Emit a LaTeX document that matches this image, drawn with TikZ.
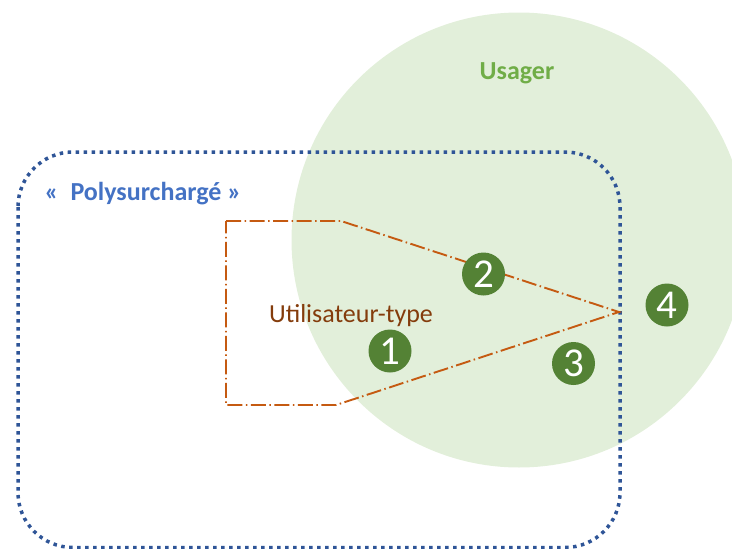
\documentclass[tikz,border=0pt]{standalone}
\usepackage{fontspec}
\setmainfont{Carlito}
\definecolor{usagerfill}{HTML}{E2EFDA}
\definecolor{usagertext}{HTML}{70AD47}
\definecolor{polyblue}{HTML}{2F5597}
\definecolor{polytext}{HTML}{4472C4}
\definecolor{typeline}{HTML}{C55A11}
\definecolor{typetext}{HTML}{843C0C}
\definecolor{numfill}{HTML}{548235}
\tikzset{
  polybox/.style={draw=polyblue, line width=3.5pt, dash pattern=on 3.5pt off 4.5pt, rounded corners=55pt},
  typebox/.style={draw=typeline, line width=1.9pt, dash pattern=on 15pt off 3.5pt on 1.5pt off 3.5pt},
  numcircle/.style={circle, fill=numfill, text=white, minimum size=43pt, inner sep=0pt, font=\fontsize{41}{42}\selectfont},
  bigtext/.style={font=\fontsize{26}{30}\selectfont, anchor=base}
}
\begin{document}
\begin{tikzpicture}[x=1pt,y=-1pt]
\useasboundingbox (0,0) rectangle (732,549);
\node[circle, fill=usagerfill, minimum size=455pt, inner sep=0pt] (usager) at (519,240) {};
\draw[polybox] (18,152) rectangle (620,547.5);
\coordinate (t1) at (226,221);
\coordinate (t2) at (341,221);
\coordinate (t3) at (619,312);
\coordinate (t4) at (336,405);
\coordinate (t5) at (226,405);
\draw[typebox] (t1) -- (t2) -- (t3) -- (t4) -- (t5) -- cycle;
\node[bigtext, text=usagertext, font=\fontsize{26}{30}\selectfont\bfseries] (usagerlabel) at (517,79) {Usager};
\node[bigtext, text=polytext, font=\fontsize{26}{30}\selectfont\bfseries] (polylabel) at (143,200) {«\ \ Polysurchargé\ »};
\node[bigtext, text=typetext] (typelabel) at (351,322) {Utilisateur-type};
\node[numcircle] (n1) at (390,351) {1};
\node[numcircle] (n2) at (483.5,274) {2};
\node[numcircle] (n3) at (573.5,363.5) {3};
\node[numcircle] (n4) at (667,305) {4};
\end{tikzpicture}
\end{document}
